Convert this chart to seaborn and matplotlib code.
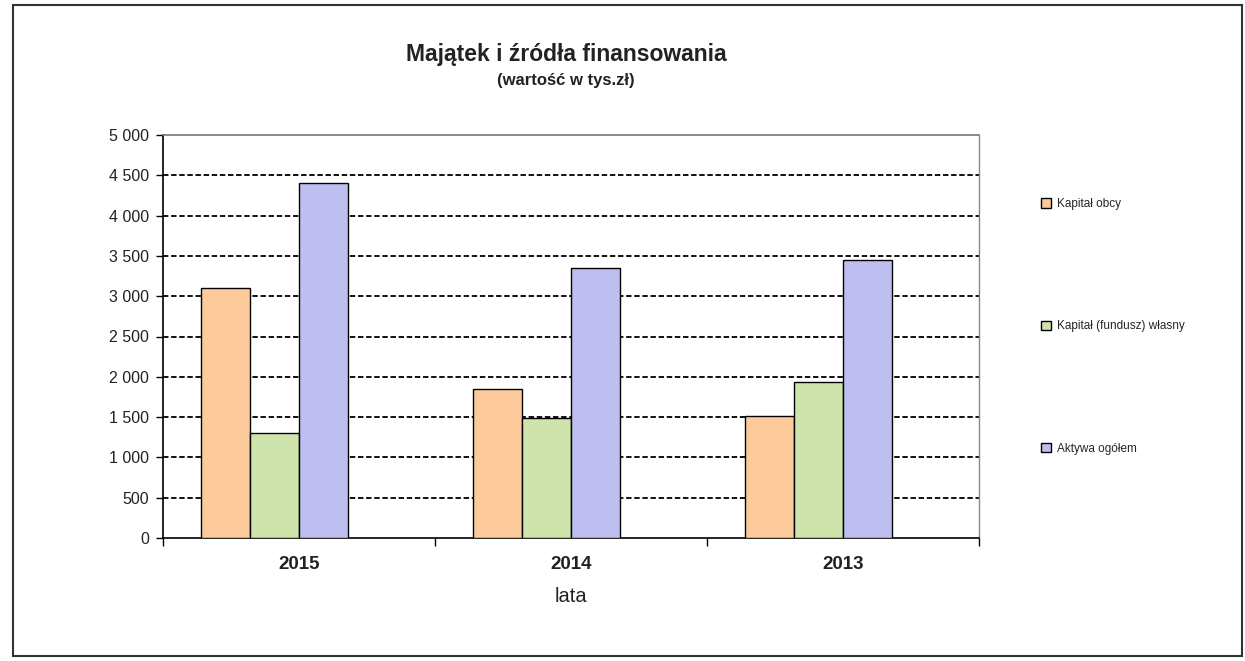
import matplotlib
matplotlib.use("Agg")
import matplotlib.pyplot as plt
from matplotlib.patches import Patch, Rectangle
from matplotlib.ticker import FuncFormatter, FixedLocator
import seaborn as sns
import pandas as pd

years = ["2015", "2014", "2013"]
series = ["Kapitał obcy", "Kapitał (fundusz) własny", "Aktywa ogółem"]
kapital_obcy = [3100, 1850, 1510]
kapital_wlasny = [1300, 1485, 1930]
aktywa = [4400, 3345, 3450]
yticks = [0, 500, 1000, 1500, 2000, 2500, 3000, 3500, 4000, 4500, 5000]

colors = ["#FDCA9C", "#CFE3AC", "#BEBEF0"]

rows = []
for name, vals in zip(series, [kapital_obcy, kapital_wlasny, aktywa]):
    for y, v in zip(years, vals):
        rows.append({"lata": y, "seria": name, "wartosc": v})
df = pd.DataFrame(rows)

sns.set_theme(style="white")
plt.rcParams["font.family"] = ["Liberation Sans", "DejaVu Sans"]

fig = plt.figure(figsize=(12.45, 6.61), dpi=100)
ax = fig.add_axes([163 / 1245, 1 - 538 / 661, (979 - 163) / 1245, (538 - 135) / 661])

hue_order = series + [" "]
palette = {series[0]: colors[0], series[1]: colors[1], series[2]: colors[2], " ": "white"}
sns.barplot(data=df, x="lata", y="wartosc", hue="seria", order=years,
            hue_order=hue_order, palette=palette, width=0.72, saturation=1,
            edgecolor="black", linewidth=1.0, legend=False, ax=ax, zorder=3)

ax.set_ylim(0, 5000)
ax.set_xlim(-0.5, 2.5)
ax.yaxis.set_major_locator(FixedLocator(yticks))
ax.yaxis.set_major_formatter(FuncFormatter(lambda v, p: f"{int(v):,}".replace(",", " ")))
ax.set_axisbelow(True)
for v in yticks[1:-1]:
    ax.axhline(v, color="black", linestyle=(0, (3, 1.5)), linewidth=1.3, zorder=1)

ax.spines["left"].set_color("black")
ax.spines["left"].set_linewidth(1.2)
ax.spines["bottom"].set_color("black")
ax.spines["bottom"].set_linewidth(1.2)
ax.spines["top"].set_color("#777777")
ax.spines["top"].set_linewidth(1.2)
ax.spines["right"].set_color("#888888")
ax.spines["right"].set_linestyle((0, (2, 1)))
ax.spines["right"].set_linewidth(1.0)

ax.tick_params(axis="y", which="major", direction="out", length=5, width=1, color="black",
               labelsize=11.5, pad=5, left=True, labelcolor="#222222")
ax.tick_params(axis="x", which="major", length=0, labelsize=13.5, pad=13, labelcolor="#222222")
ax.set_xticks([0.5 - 1, 0.5, 1.5, 2.5], minor=True)
ax.tick_params(axis="x", which="minor", direction="out", length=6, width=1, color="black", bottom=True)
for lab in ax.get_xticklabels():
    lab.set_fontweight("bold")

ax.set_ylabel("")
ax.set_xlabel("lata", fontsize=14.5, labelpad=10, color="#222222")

fig.text(566 / 1245, 1 - 54 / 661, "Majątek i źródła finansowania", ha="center", va="center",
         fontsize=16.5, fontweight="bold", color="#222222")
fig.text(566 / 1245, 1 - 80 / 661, "(wartość w tys.zł)", ha="center", va="center",
         fontsize=12, fontweight="bold", color="#222222")

handles = [Patch(facecolor=c, edgecolor="black", linewidth=1.0) for c in colors]
fig.legend(handles, series, loc="upper left", bbox_to_anchor=(1041 / 1245, 1 - 198 / 661),
           frameon=False, fontsize=8.5, handlelength=0.85, handleheight=0.85,
           handletextpad=0.5, labelspacing=9.35, borderpad=0, borderaxespad=0)

fig.add_artist(Rectangle((13 / 1245, 1 - 656 / 661), (1242 - 13) / 1245, (656 - 5) / 661,
                         transform=fig.transFigure, fill=False, edgecolor="#333333", linewidth=1.5))

fig.savefig("out.png", dpi=100, facecolor="white")
